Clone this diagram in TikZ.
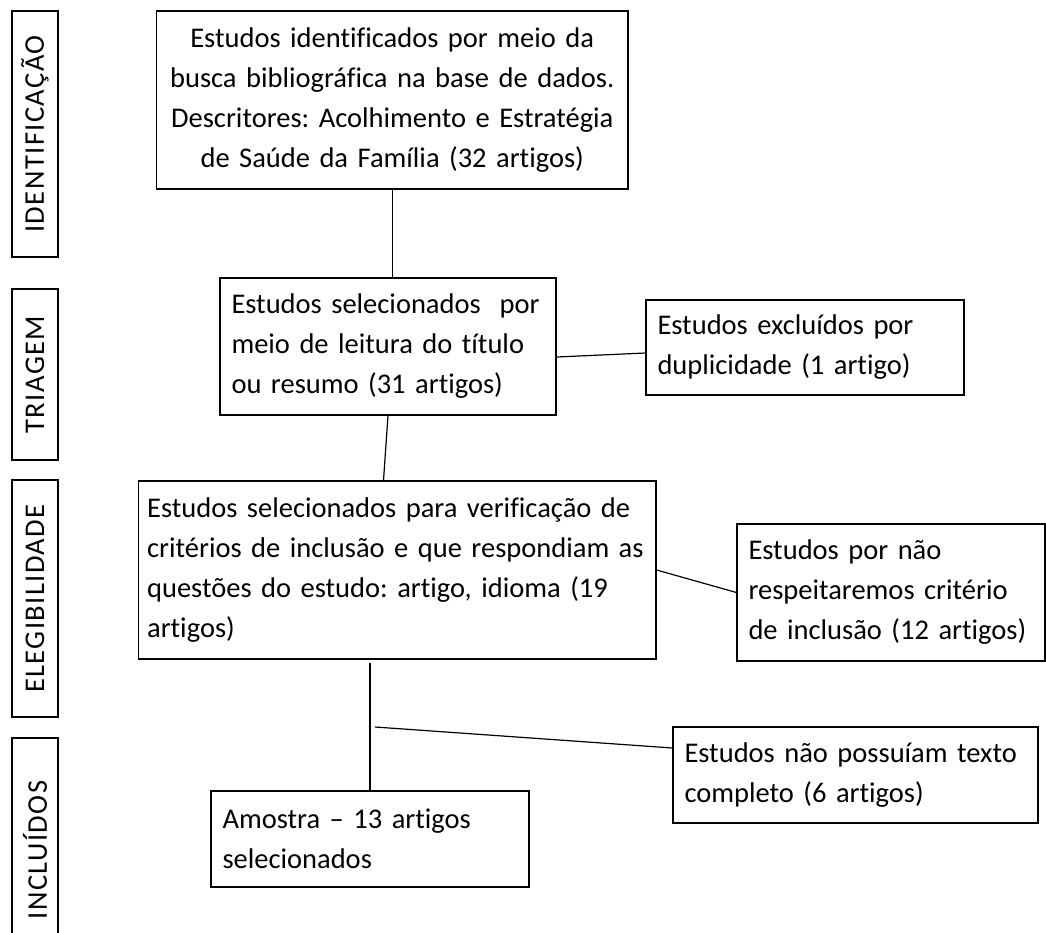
\documentclass[tikz,border=0pt]{standalone}
\usepackage{fontspec}
\setmainfont{Carlito}[Ligatures=NoCommon]
\newfontfamily\stagefont[LetterSpace=5, Ligatures=NoCommon]{Carlito}
\frenchspacing
\usepackage{tikz}
\tikzset{>=latex}
\tikzset{
    box/.style={draw, line width=0.6pt, inner xsep=5.75pt, inner ysep=0pt, align=left,
        font=\fontsize{14.25}{20}\selectfont},
    stage/.style={draw, line width=0.6pt, rotate=90, inner sep=0pt, minimum height=23pt,
        font=\stagefont\fontsize{14.25}{17}\selectfont},
}

\begin{document}
\begin{tikzpicture}[x=0.5pt, y=-0.5pt, line width=0.6pt]
    \useasboundingbox(0,0)rectangle(1046,933);
    % stages on the left
    \node[stage, minimum width=123pt](ident)at(35,134){IDENTIFICAÇÃO};
    \node[stage, minimum width=85.5pt](triag)at(35,374.5){TRIAGEM};
    \node[stage, minimum width=118.5pt](eleg)at(35,598.5){ELEGIBILIDADE};
    \node[stage, minimum width=112pt](incl)at(35,850){INCLUÍDOS};
    % boxes
    \node[box, align=center, text width=224.25pt, minimum width=235.75pt, minimum height=89pt](busca)at(392.25,100)
        {Estudos identificados por meio da\\busca bibliográfica na base de dados.\\Descritores: Acolhimento e Estratégia\\de Saúde da Família (32 artigos)};
    \node[box, text width=156.5pt, minimum width=168pt, minimum height=68.5pt](sel1)at(388,346.5)
        {Estudos selecionados\ \ por\\meio de leitura do título\\ou resumo (31 artigos)};
    \node[box, text width=147.5pt, minimum width=159pt, minimum height=47.5pt](dup)at(805,347.5)
        {Estudos excluídos por\\duplicidade (1 artigo)};
    \node[box, inner xsep=4.25pt, text width=250.2pt, minimum width=258.7pt, minimum height=89pt](sel2)at(397.3,570)
        {Estudos selecionados para verificação de\\critérios de inclusão e que respondiam as\\questões do estudo: artigo, idioma (19\\artigos)};
    \node[box, text width=142.5pt, minimum width=154pt, minimum height=68.5pt](crit)at(891,592.5)
        {Estudos por não\\respeitaremos critério\\de inclusão (12 artigos)};
    \node[box, text width=171pt, minimum width=182.5pt, minimum height=48pt](nofull)at(855.5,775)
        {Estudos não possuíam texto\\completo (6 artigos)};
    \node[box, text width=147.5pt, minimum width=159pt, minimum height=48pt](amostra)at(370,839)
        {Amostra – 13 artigos\\selecionados};
    % connectors
    \coordinate(split)at(370,663);
    \coordinate(cut)at(375,727);
    \draw(busca.south)--(busca.south|-sel1.north);
    \draw([yshift=-5.25pt]sel1.east)--([yshift=-2.75pt]dup.west);
    \draw(sel1.south)--([xshift=-6.9pt]sel2.north);
    \draw(sel2.east)--(crit.west);
    \draw(split)--(amostra.north);
    \draw(cut)--([yshift=13.5pt]nofull.west);
\end{tikzpicture}
\end{document}
